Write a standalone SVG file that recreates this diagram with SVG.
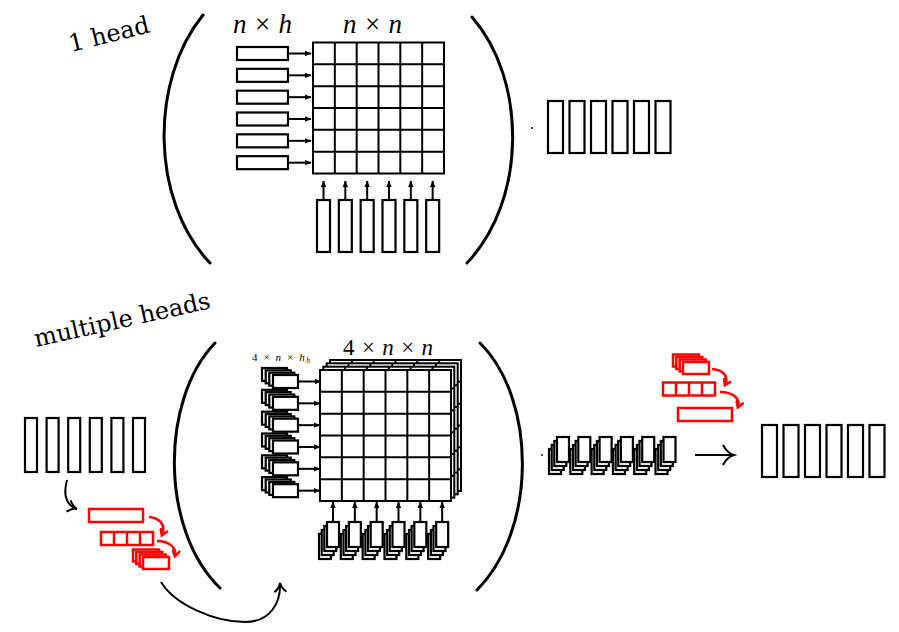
<svg xmlns="http://www.w3.org/2000/svg" xmlns:xlink="http://www.w3.org/1999/xlink" width="899" height="632" viewBox="0 0 899 632">
<style>
.bx{fill:#fff;stroke:#000;stroke-width:2.2}
.rd{fill:#fff;stroke:#f00;stroke-width:2.5}
.gr{fill:#fff;stroke:#000;stroke-width:2}
.par{fill:none;stroke:#000;stroke-width:3;stroke-linecap:round}
.ar{fill:none;stroke:#000;stroke-width:2}
.rar{fill:none;stroke:#f00;stroke-width:2.5}
.cv{fill:none;stroke:#000;stroke-width:2}
.lbl{font-family:"DejaVu Serif",serif;font-size:24px;fill:#000}
.mth{font-family:"Liberation Serif",serif;fill:#000}
</style>
<defs>
<marker id="ah" markerWidth="7" markerHeight="7" refX="6" refY="3.5" orient="auto" markerUnits="userSpaceOnUse"><path d="M0,0.8 L6.5,3.5 L0,6.2z" fill="#000"/></marker>
<marker id="rah" markerWidth="9" markerHeight="9" refX="7" refY="4.5" orient="auto" markerUnits="userSpaceOnUse"><path d="M1,0.5 L7.5,4.5 L1,8.5" fill="none" stroke="#f00" stroke-width="2.5"/></marker>
<marker id="oah" markerWidth="14" markerHeight="14" refX="11" refY="7" orient="auto" markerUnits="userSpaceOnUse"><path d="M2,1 Q6,6 11,7 Q6,8 2,13" fill="none" stroke="#000" stroke-width="2"/></marker>
<g id="grid"><rect class="gr" width="131" height="131"/><path class="gr" fill="none" d="M21.83,0V131M43.67,0V131M65.5,0V131M87.33,0V131M109.17,0V131M0,21.83H131M0,43.67H131M0,65.5H131M0,87.33H131M0,109.17H131"/></g>
<g id="hstack"><rect class="bx" x="-11" y="-7" width="25" height="13"/><rect class="bx" x="-7.3" y="-4.7" width="25" height="13"/><rect class="bx" x="-3.7" y="-2.3" width="25" height="13"/><rect class="bx" x="0" y="0" width="25" height="13"/></g>
<g id="vstack"><rect class="bx" x="-8" y="12" width="12" height="25"/><rect class="bx" x="-5.3" y="8" width="12" height="25"/><rect class="bx" x="-2.7" y="4" width="12" height="25"/><rect class="bx" x="0" y="0" width="12" height="25"/></g>
<g id="rstack"><rect class="rd" x="-10" y="-7.5" width="26" height="12"/><rect class="rd" x="-6.7" y="-5" width="26" height="12"/><rect class="rd" x="-3.3" y="-2.5" width="26" height="12"/><rect class="rd" x="0" y="0" width="26" height="12"/></g>
<g id="rseg"><rect class="rd" width="52" height="13"/><path class="rd" d="M13,0V13M26,0V13M39,0V13"/></g>
<path id="harr" class="ar" marker-end="url(#ah)" d="M0,0H23"/>
<path id="varr" class="ar" marker-end="url(#ah)" d="M0,0V-19"/>
</defs>

<text class="lbl" transform="translate(71,52) rotate(-14)">1 head</text>
<text class="lbl" transform="translate(36,347) rotate(-12.5)">multiple heads</text>

<!-- top section -->
<g id="top-parens">
<path class="par" d="M203,15 C150,80 150,200 210,263"/>
<path class="par" d="M472,17 C527,80 527,200 467,263"/>
</g>
<g id="top-labels">
<text class="mth" x="233" y="33" font-size="27" textLength="59" lengthAdjust="spacing"><tspan font-style="italic">n</tspan>×<tspan font-style="italic">h</tspan></text>
<text class="mth" x="343" y="33" font-size="27" textLength="59" lengthAdjust="spacing"><tspan font-style="italic">n</tspan>×<tspan font-style="italic">n</tspan></text>
</g>
<g id="top-keys">
<rect class="bx" x="237" y="47" width="51" height="13"/>
<rect class="bx" x="237" y="68.83" width="51" height="13"/>
<rect class="bx" x="237" y="90.67" width="51" height="13"/>
<rect class="bx" x="237" y="112.5" width="51" height="13"/>
<rect class="bx" x="237" y="134.33" width="51" height="13"/>
<rect class="bx" x="237" y="156.17" width="51" height="13"/>
</g>
<g id="top-matrix"><use xlink:href="#grid" x="313" y="42.5"/></g>
<g id="top-queries">
<rect class="bx" x="317" y="200" width="13" height="52"/>
<rect class="bx" x="338.83" y="200" width="13" height="52"/>
<rect class="bx" x="360.67" y="200" width="13" height="52"/>
<rect class="bx" x="382.5" y="200" width="13" height="52"/>
<rect class="bx" x="404.33" y="200" width="13" height="52"/>
<rect class="bx" x="426.17" y="200" width="13" height="52"/>
</g>
<g id="top-out">
<circle cx="532" cy="128" r="1"/>
<rect class="bx" x="548" y="101" width="15" height="52"/>
<rect class="bx" x="569.5" y="101" width="15" height="52"/>
<rect class="bx" x="591" y="101" width="15" height="52"/>
<rect class="bx" x="612.5" y="101" width="15" height="52"/>
<rect class="bx" x="634" y="101" width="15" height="52"/>
<rect class="bx" x="655.5" y="101" width="15" height="52"/>
</g>

<!-- bottom section -->
<g id="bot-parens">
<path class="par" d="M215,343 C160,400 160,530 220,588"/>
<path class="par" d="M480,343 C537,400 537,530 477,590"/>
</g>
<g id="bot-input">
<rect class="bx" x="25" y="418" width="12" height="54"/>
<rect class="bx" x="46.6" y="418" width="12" height="54"/>
<rect class="bx" x="68.2" y="418" width="12" height="54"/>
<rect class="bx" x="89.8" y="418" width="12" height="54"/>
<rect class="bx" x="111.4" y="418" width="12" height="54"/>
<rect class="bx" x="133" y="418" width="12" height="54"/>
</g>
<g id="bot-split">
<rect class="rd" x="89" y="509" width="54" height="13"/>
<use xlink:href="#rseg" x="101" y="532"/>
<use xlink:href="#rstack" x="143" y="557"/>
</g>
<g id="bot-labels">
<text class="mth" x="252" y="361" font-size="11" textLength="58" lengthAdjust="spacing">4 × <tspan font-style="italic">n</tspan> × <tspan font-style="italic">h</tspan><tspan font-style="italic" font-size="7.5" dy="2">h</tspan></text>
<text class="mth" x="343" y="355" font-size="23" textLength="90" lengthAdjust="spacing">4 × <tspan font-style="italic">n</tspan> × <tspan font-style="italic">n</tspan></text>
</g>
<g id="bot-matrix">
<use xlink:href="#grid" x="330" y="360"/>
<use xlink:href="#grid" x="326.7" y="363.3"/>
<use xlink:href="#grid" x="323.3" y="366.7"/>
<use xlink:href="#grid" x="320" y="370"/>
</g>
<g id="bot-keys">
<use xlink:href="#hstack" x="273" y="375"/>
<use xlink:href="#hstack" x="273" y="396.83"/>
<use xlink:href="#hstack" x="273" y="418.67"/>
<use xlink:href="#hstack" x="273" y="440.5"/>
<use xlink:href="#hstack" x="273" y="462.33"/>
<use xlink:href="#hstack" x="273" y="484.17"/>
</g>
<g id="bot-queries">
<use xlink:href="#vstack" x="327" y="522"/>
<use xlink:href="#vstack" x="348.83" y="522"/>
<use xlink:href="#vstack" x="370.67" y="522"/>
<use xlink:href="#vstack" x="392.5" y="522"/>
<use xlink:href="#vstack" x="414.33" y="522"/>
<use xlink:href="#vstack" x="436.17" y="522"/>
</g>
<g id="bot-heads-out">
<circle cx="542" cy="455" r="0.9"/>
<use xlink:href="#vstack" x="557" y="437"/>
<use xlink:href="#vstack" x="578.3" y="437"/>
<use xlink:href="#vstack" x="599.6" y="437"/>
<use xlink:href="#vstack" x="620.9" y="437"/>
<use xlink:href="#vstack" x="642.2" y="437"/>
<use xlink:href="#vstack" x="663.5" y="437"/>
</g>
<g id="bot-merge">
<use xlink:href="#rstack" x="683" y="362"/>
<use xlink:href="#rseg" x="663" y="382.5"/>
<rect class="rd" x="678" y="408" width="54" height="13"/>
</g>
<g id="bot-out">
<rect class="bx" x="762" y="425" width="15" height="52"/>
<rect class="bx" x="783.5" y="425" width="15" height="52"/>
<rect class="bx" x="805" y="425" width="15" height="52"/>
<rect class="bx" x="826.5" y="425" width="15" height="52"/>
<rect class="bx" x="848" y="425" width="15" height="52"/>
<rect class="bx" x="869.5" y="425" width="15" height="52"/>
</g>

<g id="connectors">
<use xlink:href="#harr" x="288" y="53.5"/>
<use xlink:href="#harr" x="288" y="75.33"/>
<use xlink:href="#harr" x="288" y="97.17"/>
<use xlink:href="#harr" x="288" y="119"/>
<use xlink:href="#harr" x="288" y="140.83"/>
<use xlink:href="#harr" x="288" y="162.67"/>
<use xlink:href="#varr" x="323.5" y="200"/>
<use xlink:href="#varr" x="345.33" y="200"/>
<use xlink:href="#varr" x="367.17" y="200"/>
<use xlink:href="#varr" x="389" y="200"/>
<use xlink:href="#varr" x="410.83" y="200"/>
<use xlink:href="#varr" x="432.67" y="200"/>
<use xlink:href="#harr" x="298" y="381.5" transform="translate(0,0)"/>
<use xlink:href="#harr" x="297" y="403.33"/>
<use xlink:href="#harr" x="297" y="425.17"/>
<use xlink:href="#harr" x="297" y="447"/>
<use xlink:href="#harr" x="297" y="468.83"/>
<use xlink:href="#harr" x="297" y="490.67"/>
<use xlink:href="#varr" x="333" y="521"/>
<use xlink:href="#varr" x="354.83" y="521"/>
<use xlink:href="#varr" x="376.67" y="521"/>
<use xlink:href="#varr" x="398.5" y="521"/>
<use xlink:href="#varr" x="420.33" y="521"/>
<use xlink:href="#varr" x="442.17" y="521"/>
<path class="cv" marker-end="url(#oah)" d="M67,480 C63,495 66,505 77,509"/>
<path class="cv" marker-end="url(#oah)" d="M161,582 C175,605 215,622 245,622 C270,622 281,603 280,583"/>
<path class="rar" marker-end="url(#rah)" d="M149,517 C160,518 166,525 162,535"/>
<path class="rar" marker-end="url(#rah)" d="M157,541 C168,541 177,547 175,556"/>
<path class="rar" marker-end="url(#rah)" d="M712,369 C724,370 729,377 725,385"/>
<path class="rar" marker-end="url(#rah)" d="M720,392 C733,392 741,399 738,407"/>
<path class="ar" stroke-width="2.5" d="M695,455H732"/>
<path class="ar" stroke-width="2.5" d="M723,445 Q727,453 734,455 Q727,457 723,465"/>
</g>
</svg>
